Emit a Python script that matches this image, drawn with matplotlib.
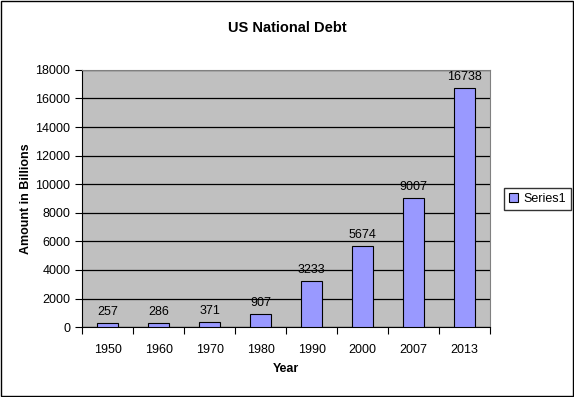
import numpy as np
import matplotlib.pyplot as plt
from matplotlib.patches import Rectangle

plt.rcParams['font.family'] = ['Liberation Sans', 'DejaVu Sans']

years = ['1950', '1960', '1970', '1980', '1990', '2000', '2007', '2013']
debt = [257, 286, 371, 907, 3233, 5674, 9007, 16738]

fig = plt.figure(figsize=(5.74, 3.97), dpi=100)
ax = fig.add_axes([0.143, 0.176, 0.711, 0.648])
ax.set_facecolor('#C0C0C0')

x = np.arange(len(years))
ax.bar(x, debt, width=0.42, color='#9999FF', edgecolor='black', linewidth=0.8,
       label='Series1', zorder=3)
for xi, v in zip(x, debt):
    ax.text(xi, v + 350, str(v), ha='center', va='bottom', fontsize=9, zorder=4)

ax.set_xlim(-0.5, len(years) - 0.5)
ax.set_ylim(0, 18000)
ax.set_yticks(np.arange(0, 18001, 2000))
ax.yaxis.grid(True, color='black', linewidth=0.9, zorder=1)
ax.set_axisbelow(True)

ax.set_xticks(x)
ax.set_xticklabels(years, fontsize=9)
ax.set_xticks(np.arange(-0.5, len(years)), minor=True)
ax.tick_params(axis='x', which='major', length=0, pad=12)
ax.tick_params(axis='x', which='minor', length=5, direction='out', width=0.8)
ax.tick_params(axis='y', labelsize=9, length=5, direction='out', width=0.8)

for side in ['top', 'right']:
    ax.spines[side].set_color('#808080')
ax.spines['left'].set_color('black')
ax.spines['bottom'].set_color('black')

ax.set_xlabel('Year', fontsize=9, fontweight='bold', labelpad=5)
ax.set_ylabel('Amount in Billions', fontsize=9, fontweight='bold', labelpad=2)
fig.text(0.5, 0.93, 'US National Debt', ha='center', va='center',
         fontsize=10.5, fontweight='bold')

fig.legend(loc='center left', bbox_to_anchor=(0.868, 0.5), fontsize=9,
           frameon=True, fancybox=False, edgecolor='black', handlelength=0.7,
           handleheight=0.7, borderpad=0.4, handletextpad=0.4)

fig.patches.append(Rectangle((0.001, 0.002), 0.997, 0.996, transform=fig.transFigure,
                             fill=False, edgecolor='black', linewidth=1.0))

fig.savefig('out.png', dpi=100)
